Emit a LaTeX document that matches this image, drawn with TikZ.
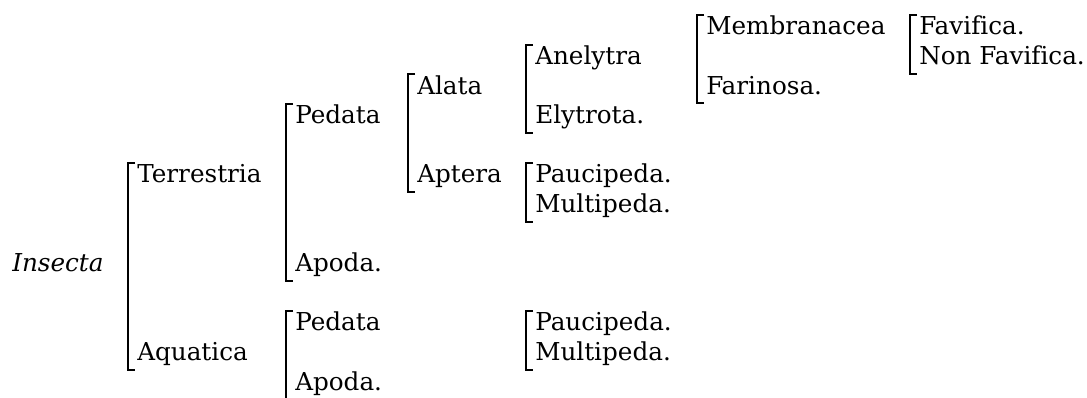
\documentclass[tikz,border=0pt]{standalone}
\usepackage{fontspec}
\setmainfont{DejaVu Serif}[Ligatures=NoCommon]
\usepackage{tikz}

% one row of the table is 29.6 units, first baseline at 35
\newcommand{\rowy}[1]{35+29.6*(#1-1)}

% square bracket from the first to the last entry of a group
\newcommand{\clamp}[2]{%
  \draw[clampline] ([shift={(-2,-20)}]#1.base west) -- ++(-7,0)
    |- ([shift={(-2,9)}]#2.base west);}

\begin{document}
\begin{tikzpicture}[x=0.75pt,y=-0.75pt,
  every node/.style={anchor=base west,inner sep=0pt,font=\fontsize{18.5}{22}\selectfont},
  clampline/.style={line width=1.5pt}]
\useasboundingbox (0,0) rectangle (1087,398);

\node (insecta) at (12,{\rowy{9}}) {\itshape Insecta};

\node (terr) at (137,{\rowy{6}}) {Terrestria};
\node (aqua) at (137,{\rowy{12}}) {Aquatica};

\node (tped) at (295,{\rowy{4}}) {Pedata};
\node (tapo) at (295,{\rowy{9}}) {Apoda.};
\node (wped) at (295,{\rowy{11}}) {Pedata};
\node (wapo) at (295,{\rowy{13}}) {Apoda.};

\node (alata) at (417,{\rowy{3}}) {Alata};
\node (aptera) at (417,{\rowy{6}}) {Aptera};

\node (anel) at (535,{\rowy{2}}) {Anelytra};
\node (elyt) at (535,{\rowy{4}}) {Elytrota.};
\node (apau) at (535,{\rowy{6}}) {Paucipeda.};
\node (amul) at (535,{\rowy{7}}) {Multipeda.};
\node (wpau) at (535,{\rowy{11}}) {Paucipeda.};
\node (wmul) at (535,{\rowy{12}}) {Multipeda.};

\node (memb) at (706,{\rowy{1}}) {Membranacea};
\node (farin) at (706,{\rowy{3}}) {Farinosa.};

\node (fav) at (919,{\rowy{1}}) {Favifica.};
\node (nonfav) at (919,{\rowy{2}}) {Non Favifica.};

\clamp{terr}{aqua}
\clamp{tped}{tapo}
\clamp{wped}{wapo}
\clamp{alata}{aptera}
\clamp{anel}{elyt}
\clamp{apau}{amul}
\clamp{wpau}{wmul}
\clamp{memb}{farin}
\clamp{fav}{nonfav}
\end{tikzpicture}
\end{document}
